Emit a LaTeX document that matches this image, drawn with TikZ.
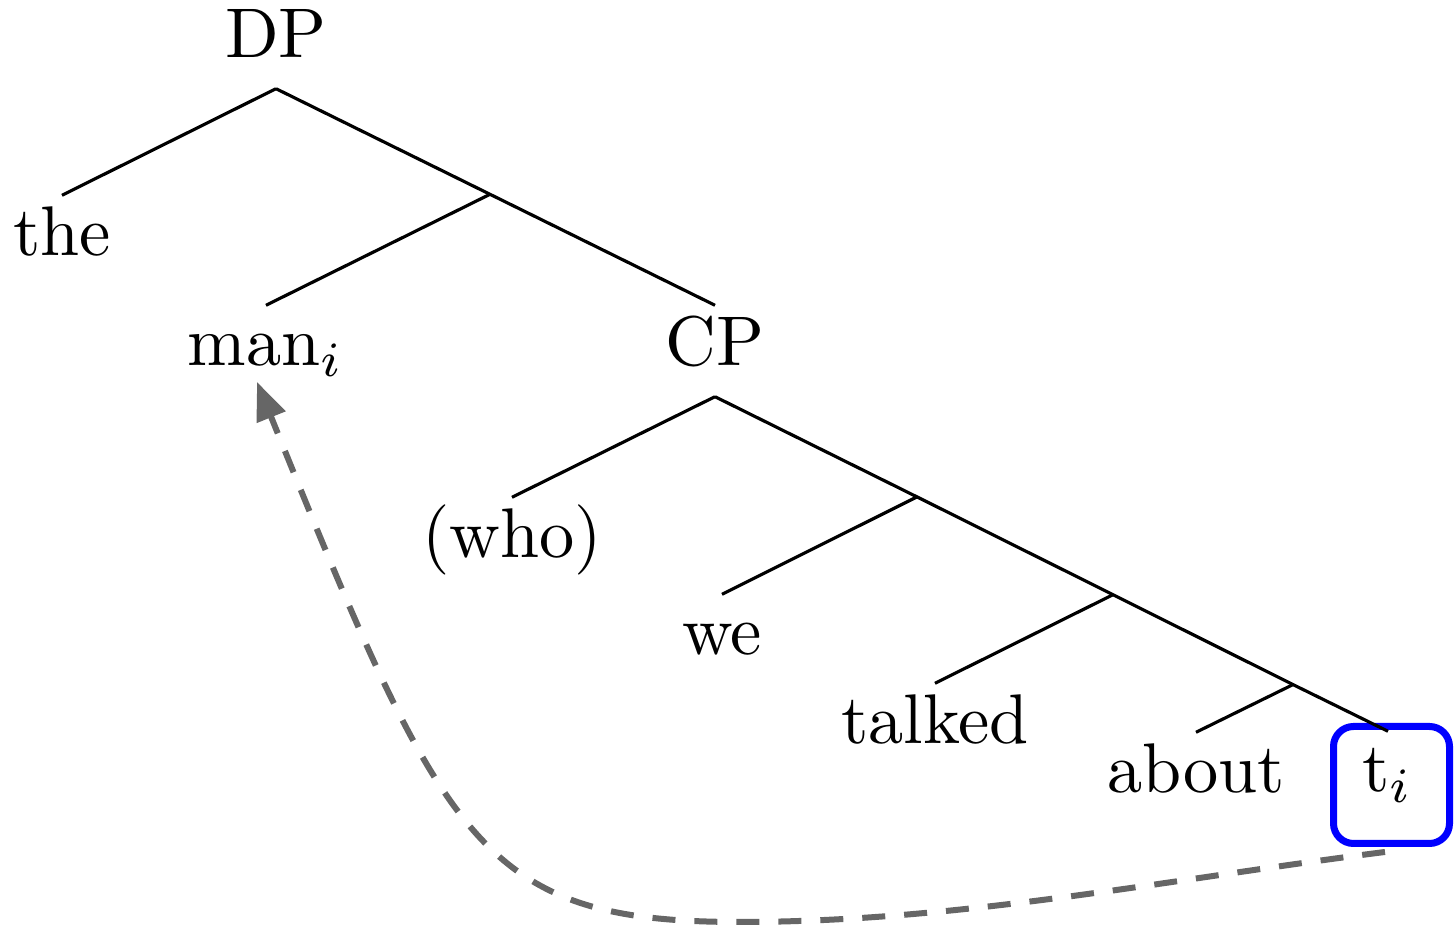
\documentclass[tikz,border=0pt]{standalone}
\usepackage{graphicx}
\usetikzlibrary{arrows.meta}
\newcommand{\wordtext}[1]{\scalebox{2}{#1}}
\begin{document}
\begin{tikzpicture}[
    word/.style={anchor=base, inner sep=0.1cm, text height=0.5cm, text depth=0.2cm},
    branch/.style={line width=0.9pt},
    tracebox/.style={draw=blue, line width=0.07cm, rounded corners=0.2cm,
      minimum width=1.16cm, minimum height=1.17cm},
    movearrow/.style={black!60, line width=0.06cm, dash pattern=on 0.23cm off 0.19cm,
      -{Triangle[length=0.38cm,width=0.3cm]}}
  ]
  \useasboundingbox (0,0) rectangle (14.54,9.30);
  % words
  \node[word] (dp) at (2.76,8.72) {\wordtext{DP}};
  \node[word] (the) at (0.62,6.74) {\wordtext{the}};
  \node[word] (man) at (2.66,5.64) {\wordtext{man$_i$}};
  \node[word] (cp) at (7.15,5.64) {\wordtext{CP}};
  \node[word] (who) at (5.12,3.72) {\wordtext{(who)}};
  \node[word] (we) at (7.22,2.75) {\wordtext{we}};
  \node[word] (talked) at (9.35,1.86) {\wordtext{talked}};
  \node[word] (about) at (11.96,1.37) {\wordtext{about}};
  \node[word] (ti) at (13.88,1.38) {\wordtext{t$_i$}};
  \node[tracebox] (tbox) at ([xshift=0.035cm,yshift=0.07cm]ti.base) {};
  % branch points
  \coordinate (n1) at (4.90,7.357);
  \coordinate (n2) at (9.17,4.331);
  \coordinate (n3) at (11.13,3.353);
  \coordinate (n4) at (12.93,2.454);
  \begin{scope}[branch]
    \draw (dp.south) -- (the.north);
    \draw (dp.south) -- (n1) -- (cp.north);
    \draw (n1) -- (man.north);
    \draw (cp.south) -- (who.north);
    \draw (cp.south) -- (n2) -- (n3) -- (n4) -- (ti.north);
    \draw (n2) -- (we.north);
    \draw (n3) -- (talked.north);
    \draw (n4) -- (about.north);
  \end{scope}
  % movement
  \draw[movearrow] ([xshift=-0.065cm,yshift=-0.05cm]tbox.south)
    .. controls (11.70,0.51) and (9.6,0.08) .. (7.4,0.08)
    .. controls (4.8,0.08) and (4.445,0.845) .. ([xshift=-0.09cm,yshift=-0.16cm]man.base);
\end{tikzpicture}
\end{document}
